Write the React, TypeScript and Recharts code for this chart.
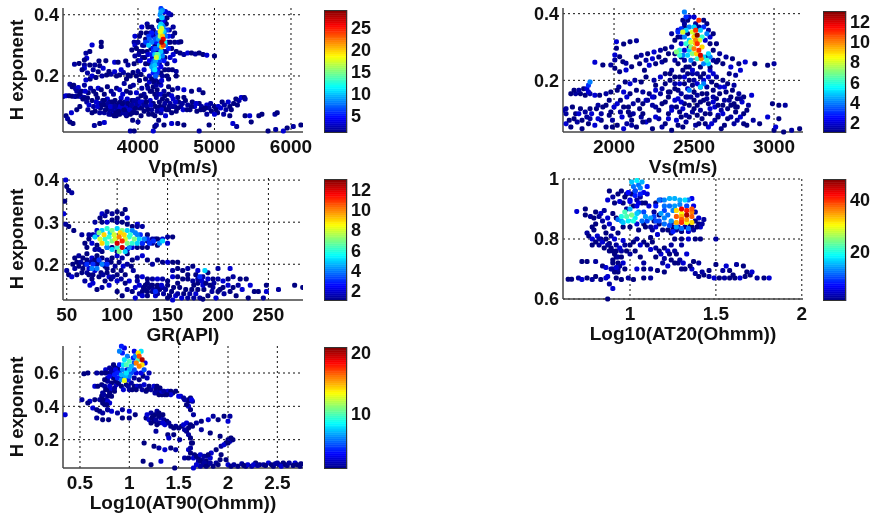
import React from "react";
import { ScatterChart, Scatter, XAxis, YAxis, CartesianGrid, ZAxis, BarChart, Bar, Label } from "recharts";

type P = number[];

// ---------- Vp panel ----------
const vpTicksX = [4000, 5000, 6000];
const vpTicksY = [0.2, 0.4];
const vpBarTicks = [5, 10, 15, 20, 25];
const vpSparse: P[] = [
[3400,.301],[3520,.31],[3520,.296],[3320,.274],[3370,.28],[3330,.258],[3170,.238],[3230,.241],[3300,.252],[3300,.236],[3300,.225],[3370,.236],[3435,.236],[3490,.249],[3580,.25],[3695,.245],[3740,.245],[3840,.249],[3870,.236],[3500,.233],[3545,.225],[3415,.22],[3480,.214],[3590,.203],[3650,.206],[3695,.214],[3760,.203],[3810,.211],[3870,.203],[3935,.211],[3320,.187],[3375,.19],[3980,.2],[4000,.215],[4040,.205],[4080,.22],
[3110,.173],[3140,.165],[3160,.17],[3185,.158],[3220,.162],[3260,.15],[3300,.17],[3350,.145],[3420,.15],[3480,.16],[3520,.155],[3600,.165],[3650,.15],[3720,.16],[3760,.155],[3820,.175],[3850,.15],[3900,.165],[3940,.17],[3980,.145],[4020,.185],[4050,.16],[4100,.19],[4120,.17],[4150,.18],[4180,.15],[4200,.165],[4230,.185],[4250,.155],[4300,.17],[4340,.15],[4400,.165],[4450,.155],[4520,.16],[4600,.155],[4700,.15],[4800,.155],[4850,.145],
[3020,.133],[3060,.135],[3100,.135],[3140,.134],[3180,.133],[3220,.134],[3260,.132],[3300,.13],[3340,.128],
[3280,.125],[3330,.115],[3360,.105],[3400,.12],[3420,.1],[3440,.085],[3470,.128],[3490,.11],[3510,.095],[3540,.12],[3560,.08],[3580,.105],[3600,.125],[3620,.09],[3640,.115],[3650,.075],[3680,.1],[3690,.085],[3700,.12],[3730,.095],[3750,.11],[3760,.075],[3780,.128],[3790,.09],[3810,.105],[3830,.115],[3850,.085],[3860,.125],[3880,.1],[3900,.075],[3920,.12],[3940,.09],[3960,.11],[3980,.08],[4000,.125],[4020,.095],[4040,.07],[4060,.115],[4080,.085],[4100,.13],[4120,.1],[4140,.075],[4160,.12],[4180,.09],[4200,.11],[4220,.07],[4240,.13],[4260,.095],[4280,.115],[4300,.08],[4320,.125],[4340,.1],[4360,.07],[4380,.12],[4400,.09],[4420,.11],[4440,.08],[4460,.125],[4480,.1],[4500,.085],[4530,.115],[4560,.1],[4590,.09],[4620,.12],[4650,.105],[4680,.09],[4710,.115],[4740,.1],[4770,.085],[4800,.11],[4830,.1],[4860,.09],[4900,.105],[4930,.095],[4960,.085],[5000,.1],
[3520,.11],[3470,.1],[3610,.1],[3660,.09],[3710,.08],[3770,.115],[3840,.1],[3720,.105],[3560,.12],[3620,.075],[3690,.07],[3750,.09],[3800,.08],[3850,.07],[3900,.1],[3950,.12],[4010,.105],
[3060,.07],[3080,.06],[3110,.05],[3150,.045],[3130,.08],[3200,.09],[3240,.1],[3430,.038],[3500,.045],[3560,.048],[3900,.02],[3950,.02],[3930,.055],[4000,.05],[4200,.02],[4220,.035],[4240,.04],[4270,.055],[4340,.04],[4440,.045],[4520,.045],[4600,.04],[4800,.02],[4930,.04],[5240,.045],[5290,.035],[5480,.05],[5700,.02],[5800,.025],[5900,.02],[5950,.03],[6030,.035],[6130,.04],[5400,.07],[5460,.07],[5580,.07],[5620,.075],[5790,.075],[5820,.08],
[5050,.1],[5150,.09],[5200,.1],[5280,.125],[5320,.12],[5350,.13],[5390,.13],[5400,.125],[5300,.105],[5250,.11],[5180,.115],[5100,.115],[5040,.08],[5120,.075],[5200,.07],[5000,.075],[4900,.075],
[4500,.28],[4550,.275],[4600,.27],[4650,.275],[4700,.275],[4750,.272],[4800,.275],[4850,.27],[4900,.268],[5000,.265],[4480,.31],[4530,.31],[4560,.312],[4480,.25],[4500,.215],[4450,.22],[4500,.2],
[3950,.31],[3960,.3],[3920,.285],[3960,.265],[4000,.25],[3950,.24],[4050,.36],[4040,.34],[4100,.32],[4120,.37],[4180,.36],[4200,.33],[4460,.36],[4480,.34],[4380,.39],[4430,.4],[4360,.41],[4350,.38],[4060,.3],[4020,.28],[4400,.22],[4420,.26],[4380,.24],[4100,.24],[4060,.26],[4120,.28]
];
const vpExtra: P[] = [
[3960,.33],[4000,.31],[4020,.33],[3980,.29],[4010,.27],[4030,.25],[4060,.28],[4080,.3],[4090,.26],[4110,.34],[4130,.27],[4130,.36],[4150,.24],[4160,.34],[4170,.29],[4190,.26],[4200,.35],[4220,.3],[4230,.34],[4250,.28],[4250,.32],[4270,.38],[4280,.24],[4290,.26],[4300,.21],[4330,.28],[4340,.34],[4350,.26],[4370,.28],[4370,.37],[4390,.31],[4410,.35],[4420,.31],[4440,.29],[4450,.33],[4460,.27],[4350,.22],[4320,.2],[4380,.2],[4400,.19],[4150,.2],[4180,.19],[4210,.18],[4240,.17],[4280,.18],[4310,.185],[4130,.16],[4160,.15],[4220,.14],[4260,.14],[4300,.14],[4350,.135],[4080,.14],[4040,.135],[4400,.14],[4440,.135],[4520,.13],[4600,.13],
[3345,.09],[3400,.08],[3455,.115],[3500,.08],[3530,.105],[3575,.09],[3610,.11],[3640,.1],[3670,.115],[3700,.1],[3715,.07],[3745,.085],[3770,.1],[3795,.11],[3820,.09],[3840,.075],[3870,.11],[3890,.09],[3915,.105],[3930,.08],[3965,.095],[3990,.11],[4030,.115],[4050,.095],[4075,.105],[4110,.115],[4130,.09],[4170,.105],[4190,.075],[4230,.1],[4250,.085],[4290,.1],[4310,.09],[4350,.11],[4370,.09],[4410,.1],[4450,.1],[4490,.115],[4520,.095],[4580,.11],[4640,.09],[4700,.1],[4760,.11],[4820,.09],[4880,.095],[4950,.11],[5020,.09],[5080,.095],[5130,.105],[5220,.09],
[3270,.22],[3340,.21],[3400,.2],[3450,.195],[3530,.2],[3620,.215],[3720,.2],[3780,.22],[3850,.19],[3900,.2],[3200,.15],[3240,.14],[3310,.15],[3380,.16],[3450,.14],[3560,.14],[3680,.14],[3800,.14],[3900,.145]
];
const vpDense: P[] = [
[4300,.42,6],[4320,.415,8],[4340,.41,4],[4290,.4,8],[4310,.39,10],[4330,.38,4],[4300,.37,10],[4280,.36,6],[4320,.365,8],
[4140,.33,6],[4180,.31,8],[4100,.31,6],[4140,.3,10],[4200,.29,5],[4240,.31,5],[4270,.33,7],[4310,.35,14],[4290,.345,18],[4320,.33,20],[4330,.32,26],[4310,.31,28],[4290,.33,16],[4330,.3,24],[4310,.295,20],[4280,.3,10],[4360,.33,8],[4380,.35,6],[4400,.33,5],[4360,.3,8],[4400,.29,5],
[4220,.27,10],[4240,.26,17],[4260,.27,12],[4210,.25,7],[4180,.27,5],[4300,.28,10],[4320,.265,8],[4340,.25,5],[4280,.25,6],[4250,.24,6],[4180,.23,9],[4220,.22,11],[4150,.25,4],[4260,.22,5],[4300,.23,4],[4230,.2,7],[4200,.21,5],
[4300,.34,15],[4290,.36,12],[4310,.355,17],[4270,.32,9],[4340,.345,10],[4330,.36,8],[4350,.31,12],[4250,.34,6],[4220,.32,7],[4180,.34,5],[4150,.32,7],[4120,.31,5],[4200,.28,6],[4230,.29,7],[4260,.29,6],[4250,.27,14],[4270,.26,11],[4230,.25,9],[4195,.24,8],[4220,.235,10],[4250,.21,6],[4200,.22,8],[4320,.39,7],[4300,.41,9],[4350,.41,3],[4400,.405,3]
];

// ---------- Vs panel ----------
const vsTicksX = [2000, 2500, 3000];
const vsTicksY = [0.2, 0.4];
const vsBarTicks = [2, 4, 6, 8, 10, 12];
const vsSparse: P[] = [
[2015,.316],[2060,.309],[2100,.316],[2140,.319],[2015,.296],[2005,.276],[2005,.261],[2035,.271],[2055,.256],[2075,.251],[1880,.254],[1930,.246],[1980,.246],[2005,.236],[2035,.226],[2075,.231],[2110,.241],[2140,.27],[2170,.275],[2210,.28],[2250,.285],[2290,.29],[2320,.295],[2160,.25],[2200,.26],[2240,.265],[2280,.27],[2300,.255],[2340,.28],[2190,.23],[2220,.245],[2260,.25],[2320,.26],
[2030,.18],[2070,.195],[2100,.19],[2130,.2],[2170,.195],[2200,.21],[2250,.2],[2290,.21],[2320,.22],[2360,.23],[2350,.2],[2380,.21],[2410,.19],[2430,.23],[2470,.24],[2520,.22],[2560,.22],[2600,.23],[2640,.21],[2680,.2],[2720,.22],[2760,.215],[2790,.23],[2650,.26],[2700,.27],[2740,.265],[2780,.25],[2820,.255],[2880,.25],[2960,.245],[3000,.25],[2680,.25],[2730,.24],
[1760,.16],[1790,.16],[1820,.155],[1850,.16],[1880,.155],[1910,.155],[1950,.16],[1980,.165],[2020,.17],[2060,.165],[2100,.16],[2140,.17],[2180,.165],[2220,.16],[2260,.17],[2300,.175],[2340,.165],[2380,.175],[2420,.16],[2460,.175],[2500,.165],[2540,.18],[2580,.16],[2620,.17],[2660,.18],[2700,.165],[2740,.17],[2780,.16],[2810,.15],[2860,.155],
[1700,.115],[1740,.12],[1790,.115],[1820,.105],[1860,.1],[1890,.115],[1920,.1],[1950,.125],[1980,.105],[2020,.13],[2060,.12],[2090,.105],[2120,.13],[2160,.115],[2200,.14],[2240,.125],[2280,.11],[2320,.135],[2360,.12],[2400,.145],[2440,.13],[2480,.15],[2520,.125],[2560,.14],[2600,.115],[2640,.145],[2680,.125],[2720,.14],[2760,.12],[2800,.135],[2840,.125],[2990,.13],[3030,.125],[3070,.125],
[2080,.15],[2150,.14],[2250,.15],[2340,.15],[2390,.12],[2430,.115],[2470,.125],[2500,.14],[2540,.11],[2590,.13],[2630,.12],[2670,.11],[2710,.115],[2750,.13],[2790,.145],
[1700,.07],[1730,.06],[1770,.075],[1800,.055],[1840,.07],[1880,.065],[1920,.08],[1950,.06],[1990,.08],[2020,.065],[2050,.09],[2080,.07],[2110,.08],[2140,.06],[2170,.09],[2200,.075],[2240,.055],[2280,.085],[2320,.07],[2360,.05],[2390,.08],[2430,.06],[2470,.09],[2510,.065],[2550,.085],[2590,.06],[2630,.08],[2670,.055],[2710,.085],[2750,.07],[2790,.09],[2830,.065],[2870,.08],[2910,.07],[3000,.05],[3010,.06],[3030,.085],[3060,.045],[3110,.05],[3160,.055],[2960,.09],
[1680,.11],[1720,.08],[1760,.1],[1830,.09],[1900,.085],[1970,.095],[2040,.105],[2100,.095],[2180,.1],[2260,.09],[2340,.1],[2420,.09],[2490,.105],[2570,.1],[2650,.095],[2730,.09],[2810,.1],
[2400,.33],[2360,.34],[2420,.31],[2380,.28],[2440,.26],[2460,.22],[2500,.25],[2600,.33],[2620,.29],[2640,.31],[2660,.28],[2430,.38],[2470,.39],[2510,.37],[2580,.37],[2440,.19],[2500,.2],[2560,.2]
];
const vsExtra: P[] = [
[2350,.22],[2380,.19],[2400,.17],[2410,.21],[2440,.21],[2450,.15],[2470,.2],[2490,.22],[2490,.185],[2520,.19],[2520,.155],[2540,.21],[2550,.16],[2580,.18],[2590,.21],[2610,.195],[2620,.15],[2640,.185],[2660,.16],[2690,.18],[2710,.19],[2730,.15],[2750,.185],[2770,.145],[2420,.135],[2460,.15],[2500,.115],[2540,.135],[2580,.145],[2620,.135],[2650,.125],[2690,.14],[2730,.125],[2770,.12],[2380,.14],[2350,.165],[2320,.19],[2290,.16],[2260,.185],[2240,.15],[2210,.14],[2180,.13],[2300,.13],[2260,.12],[2360,.11],[2410,.105],[2450,.095],[2520,.095],[2600,.1],[2680,.1],[2760,.105],[2830,.11],
[2360,.3],[2380,.32],[2400,.35],[2420,.33],[2440,.36],[2460,.34],[2470,.3],[2440,.29],[2420,.27],[2380,.26],[2400,.25],[2450,.24],[2490,.23],[2540,.24],[2580,.27],[2620,.26],[2600,.31],[2570,.32],[2590,.35],[2620,.34],[2560,.38],[2530,.36],[2500,.39],[2460,.38],[2440,.37],[2600,.24],[2640,.255],[2620,.22],
[1730,.16],[1750,.17],[1780,.17],[1810,.175],[1840,.165],[1700,.1],[1750,.085],[1800,.08],[1850,.085],[1780,.1],[1850,.115],[1900,.125],[1930,.12],[1970,.14],[2000,.12],[2040,.14],[2090,.12],[2120,.1],[1990,.06],[2060,.055],[2110,.065],[2180,.075],[2220,.08],[2300,.06],[2340,.085],[2400,.065],[2450,.075],[2530,.07],[2570,.07],[2610,.07],[2650,.09],[2690,.065],[2770,.08],[2810,.07]
];
const vsDense: P[] = [
[2440,.405,4],[2450,.39,3],[2470,.36,4],[2420,.355,3],[2500,.36,5],[2530,.38,11],[2490,.345,8],[2430,.345,8],[2510,.35,11],[2520,.335,13],[2510,.32,10],[2480,.315,8],[2450,.31,6],[2510,.31,9],[2530,.29,11],[2550,.3,9],[2540,.275,12],[2500,.295,10],[2490,.28,7],[2470,.29,5],[2410,.29,6],[2390,.285,7],[2430,.275,4],[2520,.265,6],[2560,.27,5],[2590,.25,5],[2560,.25,4],[2480,.26,4],[2580,.34,4],[2550,.33,6],[2470,.32,5],[2440,.33,4],[2560,.36,3],[2540,.18,5],[2470,.17,4],[2560,.19,4],[1840,.185,3],[1850,.195,4],[1830,.175,2],
[2520,.31,11],[2500,.33,9],[2535,.32,8],[2480,.3,7],[2515,.28,9],[2460,.275,5],[2410,.275,6],[2545,.265,10],[2580,.26,6],[2600,.27,4],[2590,.28,5],[2450,.35,5],[2400,.345,3],[2540,.35,5]
];

// ---------- GR panel ----------
const grTicksX = [50, 100, 150, 200, 250];
const grTicksY = [0.2, 0.3, 0.4];
const grBarTicks = [2, 4, 6, 8, 10, 12];
const grSparse: P[] = [
[49,.4],[50,.385],[52,.375],[55,.37],[48,.35],[47,.32],[49,.295],[52,.29],[57,.28],[65,.27],
[85,.32],[90,.325],[95,.32],[100,.325],[105,.32],[110,.31],[95,.305],[85,.3],[78,.3],[105,.3],[120,.295],[125,.29],
[68,.25],[72,.26],[76,.27],[80,.28],[70,.24],[78,.235],[85,.23],[100,.23],[110,.235],[120,.24],[130,.255],[135,.25],[140,.245],[145,.26],[150,.265],[155,.265],[130,.27],[138,.26],[125,.25],
[58,.215],[62,.22],[66,.215],[70,.225],[75,.215],[80,.22],[85,.215],[90,.21],[95,.215],[100,.22],[105,.215],[110,.225],[115,.21],[120,.215],[125,.22],[130,.21],[135,.2],[140,.21],[145,.205],[150,.205],[155,.205],[160,.205],
[50,.185],[52,.175],[55,.17],[58,.19],[62,.195],[65,.18],[68,.2],[72,.19],[76,.175],[80,.2],[84,.18],[88,.195],[92,.17],[96,.185],[100,.175],[104,.165],[108,.175],[112,.16],[116,.185],[120,.17],[60,.175],[68,.16],[73,.15],[80,.14],[85,.145],[75,.165],[88,.16],[92,.15],
[100,.135],[105,.125],[110,.14],[115,.135],[118,.12],[122,.13],[126,.145],[130,.135],[134,.15],[138,.125],[142,.14],[146,.13],[150,.12],[154,.135],[158,.125],[162,.145],[166,.13],[170,.12],[174,.14],[178,.13],[182,.12],[186,.14],[190,.125],[194,.135],[198,.12],[202,.14],[206,.13],[212,.135],[218,.125],[224,.14],[230,.12],[236,.135],[245,.12],[248,.15],[248,.135],[260,.14],[276,.15],[284,.145],
[120,.16],[125,.17],[130,.155],[135,.165],[140,.15],[150,.16],[155,.17],[160,.155],[165,.185],[170,.19],[175,.195],[180,.185],[185,.17],[190,.18],[195,.165],[200,.165],[205,.16],[210,.165],[215,.17],[222,.165],[228,.165],[232,.15],[240,.135],[170,.165],[175,.16],[180,.155],[185,.15],[195,.145],[205,.145],[215,.145],[200,.19],[212,.19],[160,.19],[155,.185],[165,.165],[178,.175],
[118,.145],[125,.135],[135,.135],[145,.145],[128,.15],[140,.165],[176,.12],[185,.117],[130,.125],[140,.13],[155,.115]
];
const grExtra: P[] = [
[70,.21],[74,.205],[78,.21],[82,.205],[86,.2],[90,.19],[94,.205],[98,.195],[102,.205],[106,.195],[110,.2],[114,.195],[66,.19],[70,.18],[78,.185],[82,.17],[86,.175],[90,.18],[94,.165],[100,.16],[56,.2],[60,.205],[64,.205],[72,.175],[76,.155],[96,.17],[104,.185],[108,.155],
[72,.27],[75,.25],[80,.245],[82,.235],[90,.24],[95,.24],[115,.24],[125,.24],[130,.24],[135,.26],[140,.26],[150,.25],[120,.29],[115,.29],[110,.295],[100,.3],[90,.3],[83,.31],[88,.315],[100,.31],[108,.33],
[125,.125],[128,.14],[132,.145],[136,.14],[140,.145],[144,.15],[148,.14],[152,.125],[156,.145],[160,.13],[164,.12],[168,.14],[172,.13],[176,.15],[180,.14],[184,.16],[188,.155],[192,.15],[196,.155],[200,.135],[210,.15],[220,.15],[160,.17],[170,.175],[180,.165],[190,.165],[150,.15],[145,.165],[135,.15],[130,.165],[122,.15]
];
const grDense: P[] = [
[80,.27,3],[85,.28,5],[90,.285,6],[95,.28,7],[100,.285,5],[105,.28,7],[110,.28,5],[115,.28,4],[120,.27,4],
[78,.265,5],[83,.26,8],[87,.27,9],[92,.265,6],[97,.27,8],[102,.265,10],[107,.27,9],[112,.265,6],[117,.26,7],[122,.26,5],[127,.26,4],
[85,.25,9],[90,.25,6],[95,.255,7],[100,.25,12],[105,.255,11],[110,.25,7],[115,.25,6],[120,.25,5],[125,.25,3],[132,.25,3],[142,.25,4],[145,.255,5],
[100,.24,6],[105,.24,12],[112,.24,4],[108,.23,5],[75,.19,4],[80,.19,4],[85,.2,4],[70,.2,3],[90,.2,3],[187,.185,5],[182,.17,3],[138,.135,3],
[82,.275,7],[88,.26,6],[93,.275,5],[98,.26,8],[103,.275,9],[108,.26,8],[113,.27,6],[118,.275,4],[123,.27,3],[90,.24,4],[95,.235,5],[102,.23,7],[76,.2,3],[82,.21,3],[130,.26,3],[136,.255,3]
];

// ---------- AT20 panel ----------
const at20TicksX = [1, 1.5, 2];
const at20TicksY = [0.6, 0.8, 1];
const at20BarTicks = [20, 40];
const at20Sparse: P[] = [
[.69,.892],[.74,.9],[.74,.88],[.77,.875],[.8,.89],[.83,.885],[.85,.895],[.9,.885],[.79,.87],[.84,.86],[.87,.87],[.92,.87],[.75,.82],[.76,.81],[.79,.83],[.81,.81],[.83,.8],[.86,.82],[.89,.81],[.93,.82],[.78,.8],[.82,.78],[.85,.77],[.88,.785],[.92,.78],[.96,.795],[1,.78],[1.04,.8],[1.08,.79],[1.12,.805],[1.16,.815],[1.05,.83],[1.09,.84],[1.13,.83],[1.17,.85],
[.87,.93],[.9,.94],[.93,.95],[.96,.92],[.98,.95],[1,.93],[1.03,.96],[1.06,.94],[1.09,.92],[.95,.96],[1.1,.95],
[.88,.76],[.92,.74],[.95,.76],[.9,.72],[.96,.72],[1,.75],[1.03,.76],[1.06,.74],[1.08,.72],[1.12,.765],[1.15,.74],[.9,.7],[.93,.69],[.97,.7],[.87,.675],[.92,.67],[.95,.665],[.99,.67],[.87,.6],[.9,.635],[.88,.65],
[.64,.666],[.66,.666],[.7,.67],[.72,.665],[.75,.67],[.78,.665],[.8,.675],[.83,.665],[.86,.67],[.72,.725],[.75,.725],[.8,.725],[.84,.71],[.86,.705],[.93,.7],
[1.02,.665],[1.08,.67],[1.12,.67],[1.04,.7],[1.08,.7],[1.12,.7],[1.16,.695],[1.2,.69],[1.22,.71],[1.26,.72],[1.3,.7],[1.24,.78],[1.2,.77],[1.18,.75],[1.2,.735],[1.24,.73],[1.28,.72],[1.3,.78],[1.33,.75],[1.37,.725],[1.4,.72],[1.26,.8],[1.3,.8],[1.34,.8],[1.38,.8],[1.41,.8],[1.5,.8],
[1.32,.7],[1.36,.7],[1.38,.685],[1.4,.675],[1.43,.68],[1.46,.675],[1.49,.67],[1.52,.67],[1.55,.67],[1.58,.67],[1.61,.67],[1.64,.67],[1.67,.675],[1.7,.68],[1.74,.67],[1.78,.67],[1.81,.67],[1.42,.69],[1.46,.695],[1.5,.715],[1.54,.695],[1.56,.71],[1.58,.695],[1.62,.715],[1.66,.71],[1.68,.69],[1.71,.69],[1.6,.68],
[1.22,.83],[1.25,.84],[1.24,.82],[1.28,.84],[1.32,.84],[1.36,.84],[1.4,.85],[1.43,.865],[1.41,.84],[1.38,.86],[1.24,.855],[1.17,.88],[1.15,.92],[1.18,.93]
];
const at20Extra: P[] = [
[.78,.84],[.8,.85],[.82,.875],[.85,.84],[.88,.85],[.9,.835],[.78,.78],[.8,.79],[.82,.8],[.84,.79],[.86,.8],[.87,.78],[.89,.77],[.9,.76],[.91,.8],[.91,.75],[.92,.76],[.93,.74],[.93,.72],[.94,.77],[.94,.71],[.9,.73],[.91,.69],[.89,.7],[.92,.705],[.95,.74],[.97,.78],[.98,.76],[1.02,.79],[1.06,.78],[1.1,.78],[1.13,.79],[1.15,.77],[1.17,.76],[1.22,.76],[1.19,.72],[1.23,.75],[1.27,.75],[1.29,.73],[1.31,.72],[1.35,.71],[1.26,.76],
[.88,.96],[.91,.92],[.94,.925],[.97,.94],[1.01,.95],[1.04,.93],[1.07,.92],[1.11,.91],[.98,.9],[1.02,.91],[1.14,.86],[1.14,.89],[1.04,.85],[1.08,.85],[1.12,.84],[1.0,.84],[.96,.84],[1.15,.84],[1.19,.83],
[1.25,.83],[1.27,.83],[1.3,.825],[1.34,.825],[1.37,.83],[1.39,.84],[1.35,.845],[1.42,.85],[1.4,.87]
];
const at20Dense: P[] = [
[.93,.865,12],[.95,.875,20],[.97,.89,22],[.99,.86,18],[1.01,.88,24],[1.03,.87,18],[1.05,.89,14],[1.07,.86,12],[1.09,.875,14],[.96,.855,16],[1.0,.9,15],
[1.01,.99,16],[1.04,.995,18],[1.07,.99,15],[1.02,.975,12],[1.06,.97,13],[1.1,.975,8],[.99,.955,7],[1.03,.945,8],[1.08,.955,6],[1.05,.92,5],[1.0,.925,6],
[1.17,.93,12],[1.2,.93,13],[1.23,.935,15],[1.26,.935,15],[1.29,.93,15],[1.32,.93,17],[1.34,.93,12],[1.36,.935,6],[1.2,.91,12],[1.23,.91,12],[1.26,.91,14],[1.29,.915,13],[1.33,.91,10],[1.37,.91,6],[1.38,.89,3],
[1.12,.87,14],[1.15,.86,10],[1.18,.885,14],[1.2,.87,13],[1.22,.88,12],[1.24,.86,14],[1.2,.85,12],[1.23,.845,10],[1.25,.825,8],
[1.27,.895,32],[1.3,.9,43],[1.33,.895,41],[1.36,.9,38],[1.27,.875,38],[1.3,.875,34],[1.33,.88,46],[1.36,.875,38],[1.27,.855,34],[1.3,.855,40],[1.33,.855,30],[1.36,.855,32],[1.27,.84,14],[1.3,.835,12],[1.34,.835,12],
[.95,.86,14],[.98,.875,22],[1.02,.86,20],[1.04,.885,16],[1.08,.89,10],[1.1,.86,10],[1.14,.875,10],[1.17,.86,10],[1.2,.895,10],[1.25,.895,13],[1.15,.91,8],[1.3,.885,30],[1.36,.89,36],[1.33,.865,35],[1.3,.865,38],[1.05,.98,12],[1.03,.96,10],[1.06,.95,8],[1.04,.91,6]
];

// ---------- AT90 panel ----------
const at90TicksX = [0.5, 1, 1.5, 2, 2.5];
const at90TicksY = [0.2, 0.4, 0.6];
const at90BarTicks = [10, 20];
const at90Sparse: P[] = [
[.35,.35],[.54,.595],[.58,.6],[.67,.6],[.72,.6],[.76,.62],[.8,.63],[.84,.65],[.9,.61],
[.52,.44],[.6,.43],[.65,.44],[.7,.44],[.73,.42],[.58,.42],[.63,.39],[.67,.38],[.7,.37],[.73,.36],[.78,.38],[.82,.37],[.88,.36],[.93,.33],[1,.33],[.93,.38],[1,.37],[1.06,.35],[.67,.33],[.73,.32],[.79,.32],
[.65,.52],[.68,.52],[.72,.53],[.75,.52],[.78,.5],[.82,.5],[.73,.48],[.78,.46],[.72,.46],[.76,.44],[.8,.42],[.75,.41],[.78,.38],[.85,.49],[.82,.54],[.87,.53],[.92,.52],[.97,.53],[1,.5],[1.05,.52],[1.08,.52],[1.13,.5],[1.17,.49],[1.2,.52],[1.22,.5],
[1.25,.52],[1.27,.5],[1.3,.49],[1.33,.47],[1.36,.47],[1.39,.49],[1.42,.49],[1.44,.48],[1.26,.48],[1.3,.47],[1.52,.46],[1.55,.45],[1.6,.43],[1.62,.45],[1.64,.43],[1.6,.4],[1.62,.38],[1.65,.35],[1.6,.44],
[1.17,.33],[1.2,.32],[1.23,.33],[1.26,.35],[1.28,.37],[1.3,.36],[1.32,.33],[1.35,.32],[1.38,.31],[1.25,.31],[1.3,.3],[1.36,.29],[1.42,.28],[1.47,.28],[1.5,.27],[1.53,.28],[1.58,.3],[1.6,.27],[1.64,.28],[1.68,.3],[1.73,.31],[1.8,.32],[1.85,.34],[1.9,.32],[1.96,.34],[2.02,.34],[2,.31],
[1.58,.25],[1.6,.23],[1.62,.21],[1.63,.18],[1.6,.14],[1.62,.12],[1.66,.11],[1.56,.09],[1.6,.09],[1.65,.09],[1.27,.25],[1.39,.23],[1.45,.23],[1.51,.2],[1.4,.21],[1.92,.22],[1.73,.26],[1.82,.24],[2.0,.2],[2.02,.19],[2.05,.2],[1.98,.18],[1.93,.16],[1.88,.14],[1.83,.12],[1.79,.1],
[1.15,.18],[1.25,.16],[1.3,.15],[1.36,.14],[1.42,.15],[1.47,.14],[1.14,.07],[1.22,.05],[1.32,.07],[1.46,.03],
[1.7,.09],[1.74,.08],[1.78,.07],[1.82,.09],[1.7,.07],[1.75,.05],[1.8,.05],[1.72,.04],[1.65,.03],[1.85,.04],[1.88,.06],[1.92,.08],[1.98,.08],[2,.05],
[2.03,.04],[2.1,.04],[2.14,.055],[2.18,.04],[2.2,.05],[2.24,.04],[2.28,.06],[2.32,.05],[2.36,.05],[2.41,.06],[2.46,.04],[2.52,.05],[2.56,.06],[2.6,.045],[2.68,.06],[2.74,.055],[2.73,.04],[2.5,.06]
];
const at90Extra: P[] = [
[.76,.6],[.78,.57],[.82,.6],[.84,.57],[.86,.55],[.78,.55],[.8,.52],[.76,.5],[.74,.47],[.8,.48],[.82,.46],[.78,.43],[.73,.44],[.77,.41],[.85,.51],[.89,.54],[.94,.5],[.99,.52],[1.03,.5],[1.07,.5],[1.11,.52],[1.15,.53],[1.18,.5],[1.02,.54],[.75,.56],[.8,.6],[.86,.6],[.92,.58],[.88,.63],[.82,.61],[.85,.63],[.98,.62],[1.05,.57],[1.1,.56],[1.14,.58],
[1.22,.36],[1.18,.35],[1.24,.34],[1.27,.32],[1.3,.34],[1.34,.35],[1.34,.3],[1.28,.29],[1.22,.3],[1.4,.3],[1.45,.27],[1.55,.29],[1.56,.26],[1.62,.29],[1.58,.41],[1.56,.44],[1.33,.49],[1.47,.49],[1.35,.49],[1.28,.52],[1.31,.51],[1.42,.47],[1.38,.47],
[1.64,.18],[1.62,.15],[1.68,.1],[1.72,.11],[1.76,.1],[1.8,.11],[1.72,.07],[1.76,.06],[1.68,.05],[1.78,.04],[1.82,.06],[1.9,.05],[1.93,.11],[1.96,.17],[2.03,.21],[2,.18],
[2.06,.05],[2.16,.045],[2.26,.05],[2.3,.045],[2.38,.045],[2.44,.05],[2.48,.055],[2.54,.04],[2.58,.05],[2.62,.06],[2.66,.045],[2.7,.05]
];
const at90Dense: P[] = [
[.92,.76,4],[.95,.75,3],[.9,.73,6],[.93,.72,4],[1.05,.73,3],[1.09,.72,14],[1.12,.73,8],[1.1,.7,17],[1.13,.68,20],[1.09,.68,10],[1.07,.66,16],[1.13,.65,14],[1.1,.64,16],[1.15,.62,5],
[.95,.68,8],[1,.67,10],[.97,.65,10],[1.02,.64,7],[.93,.62,6],[.97,.6,8],[1.02,.6,5],[.9,.6,3],[.85,.59,4],[.8,.58,3],[.88,.57,4],[.92,.56,6],[.99,.56,4],[.95,.555,13],[1.07,.6,3],[1.12,.6,3],[1.18,.57,2],[1.2,.6,2],
[1.5,.46,3],[1.63,.44,3],[.98,.7,6],[1.04,.69,4],[.9,.65,4],[.94,.65,8],[1,.62,7],[1.05,.62,5],[.88,.6,4],[.92,.59,7],[.96,.58,7],[1.0,.58,6],[.86,.62,3],[1.05,.66,5],[1.06,.7,6],[1.16,.66,3]
];

const FONT = "'Liberation Sans', Arial, sans-serif";
const TEXT = "#111";

function jet(t: number): string {
  const c = (v: number) => Math.round(255 * Math.max(0, Math.min(1, v)));
  return `rgb(${c(1.5 - Math.abs(4 * t - 3))},${c(1.5 - Math.abs(4 * t - 2))},${c(1.5 - Math.abs(4 * t - 1))})`;
}

const tickStyleY = { fontFamily: FONT, fontWeight: 700, fontSize: 18, fill: TEXT };
const tickStyleX = { fontFamily: FONT, fontWeight: 700, fontSize: 19, fill: TEXT };

function Panel(props: any) {
  const { left, top, w, h, xd, yd, xt, yt, xl, yl, sparse, extra, dense, max, yfmt, xfmt } = props;
  const low = (i: number) => (i % 5 === 0 ? 0.08 : i % 3 === 0 ? 0.03 : 0);
  const data = [
    ...[...sparse, ...extra].map((p: P, i: number) => ({ x: p[0], y: p[1], t: low(i) })),
    ...[...dense].sort((a: P, b: P) => a[2] - b[2]).map((p: P) => ({ x: p[0], y: p[1], t: (p[2] - 1) / (max - 1) })),
  ];
  const dot = (p: any) => (
    <rect x={p.cx - 2.5} y={p.cy - 2.5} width={5} height={5} rx={1.8} fill={jet(p.payload.t)} />
  );
  return (
    <div style={{ position: "absolute", left: left - 63, top: top - 14 }}>
      <ScatterChart width={w + 63 + 14} height={h + 14 + 50} margin={{ top: 14, right: 14, bottom: 0, left: 0 }}>
        <CartesianGrid stroke="#111" strokeDasharray="2 3" strokeWidth={1} syncWithTicks />
        <XAxis type="number" dataKey="x" domain={xd} ticks={xt} interval={0} height={50} allowDataOverflow
          tickLine={false} tickSize={0} axisLine={{ stroke: "#444", strokeWidth: 1.5 }} tick={tickStyleX} tickMargin={8}
          tickFormatter={xfmt}>
          <Label content={(c: any) => (
            <text x={c.viewBox.x + c.viewBox.width / 2} y={c.viewBox.y + 41} textAnchor="middle"
              style={{ fontFamily: FONT, fontWeight: 700, fontSize: 19, fill: TEXT }}>{xl}</text>
          )} />
        </XAxis>
        <YAxis type="number" dataKey="y" domain={yd} ticks={yt} interval={0} width={63}
          tickLine={false} tickSize={0} axisLine={{ stroke: "#444", strokeWidth: 1.5 }} tick={tickStyleY} tickMargin={4}
          tickFormatter={yfmt}>
          {yl ? <Label content={(c: any) => (
            <text transform={`translate(23,${c.viewBox.y + c.viewBox.height / 2}) rotate(-90)`} textAnchor="middle"
              style={{ fontFamily: FONT, fontWeight: 700, fontSize: 18.5, fill: TEXT }}>{yl}</text>
          )} /> : null}
        </YAxis>
        <ZAxis range={[16, 16]} />
        <Scatter data={data} isAnimationActive={false} shape={dot} />
      </ScatterChart>
    </div>
  );
}

const LEVELS = 64;
function ColorBar({ left, top, h, max, ticks }: any) {
  const step = (max - 1) / LEVELS;
  const row: Record<string, number> = {};
  for (let i = 0; i < LEVELS; i++) row["l" + i] = i === 0 ? 1 + step : step;
  return (
    <div style={{ position: "absolute", left, top: top - 12 }}>
      <BarChart width={23 + 44} height={h + 24} data={[row]} barCategoryGap={0}
        margin={{ top: 12, right: 0, bottom: 12, left: 0 }}>
        <XAxis hide type="category" />
        <YAxis orientation="right" type="number" domain={[1, max]} ticks={ticks} interval={0} width={44} allowDataOverflow
          tickLine={false} tickSize={0} axisLine={false} tick={tickStyleY} tickMargin={4} />
        {Array.from({ length: LEVELS }, (_, i) => {
          const col = jet((i + 0.5) / LEVELS);
          return <Bar key={i} dataKey={"l" + i} stackId="a" fill={col} stroke={col} strokeWidth={0.6} isAnimationActive={false} />;
        })}
      </BarChart>
      <div style={{ position: "absolute", left: 0, top: 12, width: 23, height: h, boxSizing: "border-box", border: "1px solid #333" }} />
    </div>
  );
}

const f1 = (v: number) => v.toFixed(1);
const fg = (v: number) => String(v);

export default function App() {
  return (
    <div style={{ position: "absolute", left: 0, top: 0, width: 876, height: 519, background: "#fff", overflow: "hidden", filter: "blur(0.35px)" }}>
      <Panel left={63} top={8} w={240} h={124} xd={[3020, 6157]} yd={[0.017, 0.422]} xt={vpTicksX} yt={vpTicksY} xl="Vp(m/s)" yl="H exponent" sparse={vpSparse} extra={vpExtra} dense={vpDense} max={29} yfmt={f1} xfmt={fg} />
      <ColorBar left={324} top={10} h={123} max={29} ticks={vpBarTicks} />

      <Panel left={563} top={8} w={240} h={124} xd={[1681, 3181]} yd={[0.045, 0.417]} xt={vsTicksX} yt={vsTicksY} xl="Vs(m/s)" sparse={vsSparse} extra={vsExtra} dense={vsDense} max={13} yfmt={f1} xfmt={fg} />
      <ColorBar left={823} top={11} h={122} max={13} ticks={vsBarTicks} />

      <Panel left={63} top={178} w={240} h={122} xd={[46.3, 284.3]} yd={[0.1166, 0.405]} xt={grTicksX} yt={grTicksY} xl="GR(API)" yl="H exponent" sparse={grSparse} extra={grExtra} dense={grDense} max={13} yfmt={f1} xfmt={fg} />
      <ColorBar left={324} top={179} h={122} max={13} ticks={grBarTicks} />

      <Panel left={563} top={179} w={240} h={120} xd={[0.61, 2.007]} yd={[0.6, 1]} xt={at20TicksX} yt={at20TicksY} xl="Log10(AT20(Ohmm))" sparse={at20Sparse} extra={at20Extra} dense={at20Dense} max={48} yfmt={fg} xfmt={fg} />
      <ColorBar left={823} top={179} h={122} max={48} ticks={at20BarTicks} />

      <Panel left={63} top={346} w={240} h={122} xd={[0.328, 2.76]} yd={[0.03, 0.762]} xt={at90TicksX} yt={at90TicksY} xl="Log10(AT90(Ohmm))" yl="H exponent" sparse={at90Sparse} extra={at90Extra} dense={at90Dense} max={21} yfmt={f1} xfmt={fg} />
      <ColorBar left={324} top={347} h={122} max={21} ticks={at90BarTicks} />
    </div>
  );
}
